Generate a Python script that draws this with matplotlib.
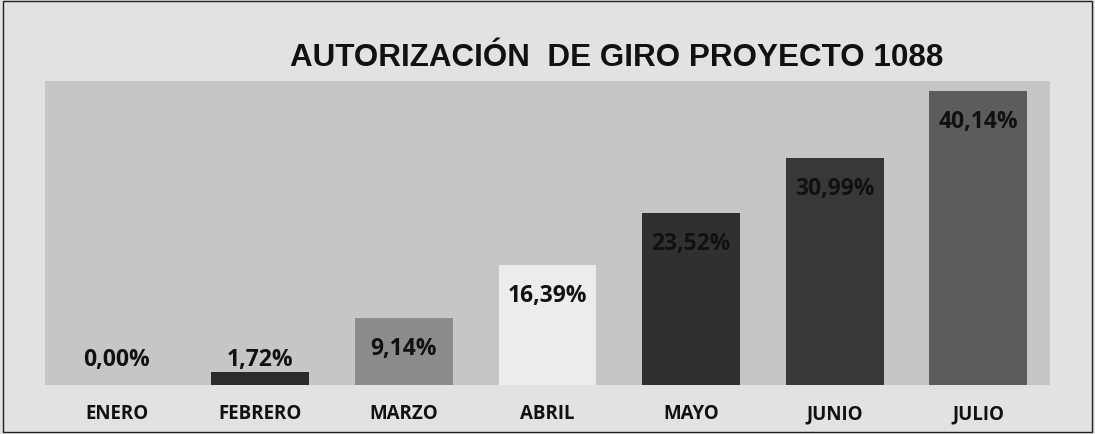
import numpy as np
import matplotlib.pyplot as plt
from matplotlib.patches import Rectangle

meses = ['ENERO', 'FEBRERO', 'MARZO', 'ABRIL', 'MAYO', 'JUNIO', 'JULIO']
porcentajes = [0.00, 1.72, 9.14, 16.39, 23.52, 30.99, 40.14]
grises = ['#2b2b2b', '#2b2b2b', '#8c8c8c', '#ececec', '#303030', '#383838', '#5c5c5c']
etiquetas = ['0,00%', '1,72%', '9,14%', '16,39%', '23,52%', '30,99%', '40,14%']

fig = plt.figure(figsize=(10.95, 4.35), dpi=100, facecolor='#e2e2e2')
ax = fig.add_axes([0.041, 1 - 386 / 435, 0.918, (386 - 82) / 435])
ax.set_facecolor('#c6c6c6')

x = np.arange(len(meses))
ax.bar(x, porcentajes, width=0.68, color=grises, edgecolor='none')
ax.set_xlim(-0.5, 6.5)
ax.set_ylim(0, 41.5)

for i, v in enumerate(porcentajes):
    y = max(v - 4.1, 3.55)
    ax.text(i, y, etiquetas[i], ha='center', va='center', fontsize=16.5,
            fontweight='bold', family=['Open Sans', 'DejaVu Sans'], color='#111111')

ax.set_xticks(x)
ax.set_xticklabels(meses, fontsize=13.5, fontweight='bold', family=['Open Sans', 'DejaVu Sans'], color='#111111')
ax.tick_params(axis='x', length=0, pad=13)
ax.set_yticks([])
for s in ax.spines.values():
    s.set_visible(False)

titulo = fig.text(0.563, 0.866, 'AUTORIZACIÓN  DE GIRO PROYECTO 1088', ha='center', va='center',
                  fontsize=24, fontweight='bold', family=['Liberation Sans', 'DejaVu Sans'], color='#111111')
# ajustar el tamaño para que el titulo ocupe ~652 px de ancho
fig.canvas.draw()
ancho = titulo.get_window_extent().width
titulo.set_fontsize(24 * 652 / ancho)

fig.patches.append(Rectangle((0.003, 0.005), 0.994, 0.99, transform=fig.transFigure,
                             fill=False, edgecolor='#222222', linewidth=1))

plt.savefig('out.png', dpi=100, facecolor=fig.get_facecolor())
